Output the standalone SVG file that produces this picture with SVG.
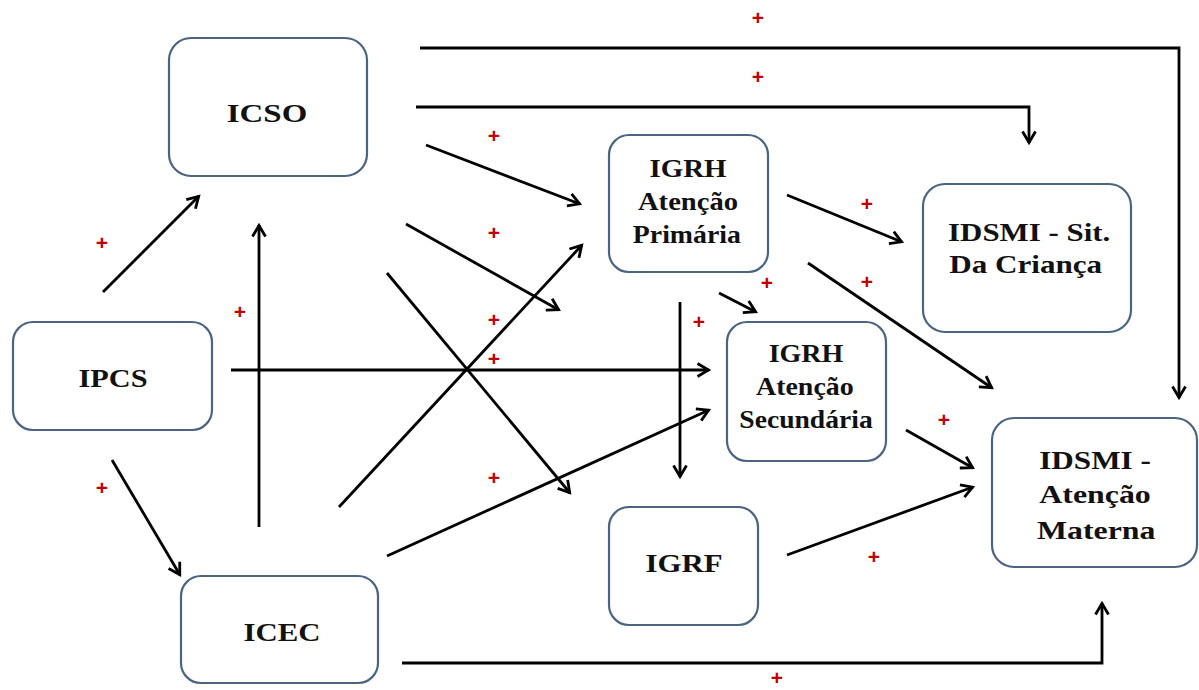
<svg xmlns="http://www.w3.org/2000/svg" width="1199" height="690" viewBox="0 0 1199 690">
<style>
.box{fill:#ffffff;stroke:#4d6480;stroke-width:2.2}
.lbl{font-family:"Liberation Serif","Times New Roman",serif;font-weight:bold;font-size:25px;fill:#111111;text-anchor:middle}
.con{fill:none;stroke:#000000;stroke-width:2.8}
.plus{font-family:"Liberation Sans",Arial,sans-serif;font-weight:bold;font-size:21px;fill:#c00000;text-anchor:middle}
</style>
<defs>
<marker id="arr" markerUnits="userSpaceOnUse" viewBox="0 0 16 16" markerWidth="16" markerHeight="16" refX="13.5" refY="8" orient="auto">
<path d="M2,1.5 L13,8 L2,14.5" fill="none" stroke="#000000" stroke-width="2.8" stroke-linejoin="miter"/>
</marker>
</defs>
<rect width="1199" height="690" fill="#ffffff"/>

<g id="connectors">
<polyline class="con" points="420,48 1179,48 1179,398" marker-end="url(#arr)"/>
<polyline class="con" points="416,107 1029,107 1029,143" marker-end="url(#arr)"/>
<line class="con" x1="426" y1="145" x2="580" y2="204" marker-end="url(#arr)"/>
<line class="con" x1="406" y1="224" x2="559" y2="310" marker-end="url(#arr)"/>
<line class="con" x1="387" y1="273" x2="570" y2="493" marker-end="url(#arr)"/>
<line class="con" x1="339" y1="507" x2="582" y2="245" marker-end="url(#arr)"/>
<line class="con" x1="231" y1="370" x2="709" y2="370" marker-end="url(#arr)"/>
<line class="con" x1="259" y1="527" x2="259" y2="225" marker-end="url(#arr)"/>
<line class="con" x1="103" y1="292" x2="199" y2="196" marker-end="url(#arr)"/>
<line class="con" x1="112" y1="460" x2="180" y2="575" marker-end="url(#arr)"/>
<line class="con" x1="387" y1="556" x2="709" y2="410" marker-end="url(#arr)"/>
<polyline class="con" points="402,663 1102,663 1102,603" marker-end="url(#arr)"/>
<line class="con" x1="787" y1="195" x2="902" y2="242" marker-end="url(#arr)"/>
<line class="con" x1="808" y1="263" x2="992" y2="388" marker-end="url(#arr)"/>
<line class="con" x1="719" y1="293" x2="756" y2="312" marker-end="url(#arr)"/>
<line class="con" x1="680" y1="302" x2="680" y2="477" marker-end="url(#arr)"/>
<line class="con" x1="906" y1="430" x2="973" y2="468" marker-end="url(#arr)"/>
<line class="con" x1="787" y1="555" x2="973" y2="487" marker-end="url(#arr)"/>
</g>

<g id="signs">
<text class="plus" x="758" y="25">+</text>
<text class="plus" x="758" y="84">+</text>
<text class="plus" x="494" y="143">+</text>
<text class="plus" x="494" y="240">+</text>
<text class="plus" x="494" y="327">+</text>
<text class="plus" x="494" y="366">+</text>
<text class="plus" x="494" y="485">+</text>
<text class="plus" x="102" y="250">+</text>
<text class="plus" x="240" y="319">+</text>
<text class="plus" x="102" y="495">+</text>
<text class="plus" x="867" y="211">+</text>
<text class="plus" x="867" y="289">+</text>
<text class="plus" x="767" y="290">+</text>
<text class="plus" x="699" y="329">+</text>
<text class="plus" x="944" y="427">+</text>
<text class="plus" x="874" y="564">+</text>
<text class="plus" x="777" y="685">+</text>
</g>

<g id="ICSO">
<rect class="box" x="169" y="38" width="198" height="138" rx="22"/>
<g transform="translate(267,0) scale(1.15,1)"><text class="lbl" x="0" y="122" textLength="70" lengthAdjust="spacingAndGlyphs">ICSO</text></g>
</g>

<g id="IPCS">
<rect class="box" x="13" y="322" width="199" height="108" rx="20"/>
<g transform="translate(113,0) scale(1.15,1)"><text class="lbl" x="0" y="387" textLength="60" lengthAdjust="spacingAndGlyphs">IPCS</text></g>
</g>

<g id="ICEC">
<rect class="box" x="181" y="576" width="197" height="107" rx="20"/>
<g transform="translate(282,0) scale(1.15,1)"><text class="lbl" x="0" y="641" textLength="67" lengthAdjust="spacingAndGlyphs">ICEC</text></g>
</g>

<g id="IGRH_Primaria">
<rect class="box" x="609" y="135" width="159" height="137" rx="20"/>
<g transform="translate(688,0) scale(1.15,1)">
<text class="lbl" x="0" y="177" textLength="67" lengthAdjust="spacingAndGlyphs">IGRH</text>
<text class="lbl" x="0" y="210" textLength="87" lengthAdjust="spacingAndGlyphs">Atenção</text>
<text class="lbl" x="-1" y="243" textLength="94" lengthAdjust="spacingAndGlyphs">Primária</text>
</g>
</g>

<g id="IDSMI_Sit_Crianca">
<rect class="box" x="923" y="184" width="208" height="148" rx="22"/>
<g transform="translate(1028,0) scale(1.15,1)">
<text class="lbl" x="1" y="241" textLength="141" lengthAdjust="spacingAndGlyphs">IDSMI - Sit.</text>
<text class="lbl" x="-2" y="273" textLength="133" lengthAdjust="spacingAndGlyphs">Da Criança</text>
</g>
</g>

<g id="IGRH_Secundaria">
<rect class="box" x="727" y="322" width="159" height="139" rx="20"/>
<g transform="translate(806,0) scale(1.15,1)">
<text class="lbl" x="0" y="362" textLength="65" lengthAdjust="spacingAndGlyphs">IGRH</text>
<text class="lbl" x="-1" y="395" textLength="85" lengthAdjust="spacingAndGlyphs">Atenção</text>
<text class="lbl" x="0" y="428" textLength="116" lengthAdjust="spacingAndGlyphs">Secundária</text>
</g>
</g>

<g id="IGRF">
<rect class="box" x="609" y="507" width="149" height="118" rx="20"/>
<g transform="translate(684,0) scale(1.15,1)"><text class="lbl" x="0" y="572" textLength="67" lengthAdjust="spacingAndGlyphs">IGRF</text></g>
</g>

<g id="IDSMI_Atencao_Materna">
<rect class="box" x="992" y="418" width="205" height="149" rx="22"/>
<g transform="translate(1095,0) scale(1.15,1)">
<text class="lbl" x="0" y="469" textLength="97" lengthAdjust="spacingAndGlyphs">IDSMI -</text>
<text class="lbl" x="0" y="503" textLength="97" lengthAdjust="spacingAndGlyphs">Atenção</text>
<text class="lbl" x="1" y="539" textLength="103" lengthAdjust="spacingAndGlyphs">Materna</text>
</g>
</g>
</svg>
